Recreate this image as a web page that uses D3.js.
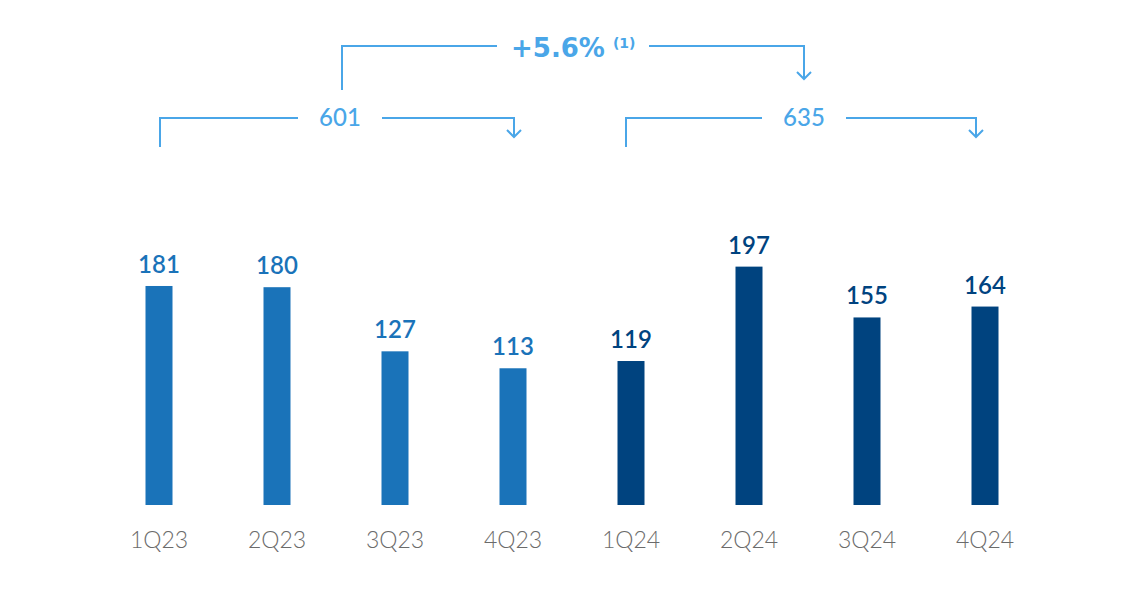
<!DOCTYPE html>
<html><head><meta charset="utf-8">
<script src="https://cdn.jsdelivr.net/npm/d3@7"></script>
<style>body{margin:0;background:#fff;}svg{display:block;font-family:Lato,"Open Sans",sans-serif;}</style>
</head><body>
<svg id="c" width="1147" height="594"></svg>
<script>
const categories = ["1Q23","2Q23","3Q23","4Q23","1Q24","2Q24","3Q24","4Q24"];
const values = [181,180,127,113,119,197,155,164];
const years = ["2023","2023","2023","2023","2024","2024","2024","2024"];
const totalLabels = ["601","635"];
const totalFrom = [0,4];
const totalTo = [3,7];
const growth = "+5.6%";
const growthNote = "(1)";

const colors = {"2023":"#1a73b9","2024":"#00437f"};
const accent = "#4aa6e8";
const svg = d3.select("#c");
const x = d3.scalePoint().domain(categories).range([159,985]);
const y = d3.scaleLinear().domain([0,200]).range([505,263]);
const bw = 27;

svg.selectAll("rect.bar").data(values).join("rect")
  .attr("x",(d,i)=>x(categories[i])-bw/2).attr("width",bw)
  .attr("y",d=>y(d)).attr("height",d=>y(0)-y(d))
  .attr("fill",(d,i)=>colors[years[i]]);

svg.selectAll("text.val").data(values).join("text")
  .attr("x",(d,i)=>x(categories[i])).attr("y",d=>y(d)-13)
  .attr("text-anchor","middle").attr("font-size",24).attr("font-weight",600)
  .attr("fill",(d,i)=>colors[years[i]]).text(d=>d);

svg.selectAll("text.cat").data(categories).join("text")
  .attr("x",d=>x(d)).attr("y",548).attr("text-anchor","middle")
  .attr("font-size",23).attr("font-weight",300).attr("fill","#6b6b6b").text(d=>d);

function bracket(x1,x2,yl,ybot,yarr,gapL,gapR){
  const g = svg.append("g").attr("stroke",accent).attr("stroke-width",2).attr("fill","none");
  g.append("path").attr("d",`M${x1},${ybot}V${yl}H${gapL}`);
  g.append("path").attr("d",`M${gapR},${yl}H${x2}V${yarr}`);
  g.append("path").attr("d",`M${x2-7},${yarr-7}L${x2},${yarr}L${x2+7},${yarr-7}`);
}
const leftOff = [1,-5], rightOff = [1,-9];
totalLabels.forEach((lab,k)=>{
  const x1 = x(categories[totalFrom[k]])+leftOff[k], x2 = x(categories[totalTo[k]])+rightOff[k];
  const cx = (x1+x2)/2 + 3;
  bracket(x1,x2,118,147,137,cx-42,cx+42);
  svg.append("text").attr("x",cx).attr("y",126).attr("text-anchor","middle")
    .attr("font-size",24).attr("font-weight",500).attr("fill",accent).text(lab);
});
// growth bracket
bracket(342,804,46,90,79,497,649);
const gt = svg.append("text").attr("x",511).attr("y",57).attr("fill",accent)
  .attr("font-family","'DejaVu Sans',sans-serif");
gt.append("tspan").attr("font-size",26).attr("font-weight",700).text(growth);
gt.append("tspan").attr("dx",8).attr("dy",-9).attr("font-size",14).attr("font-weight",700).text(growthNote);
</script>
</body></html>
